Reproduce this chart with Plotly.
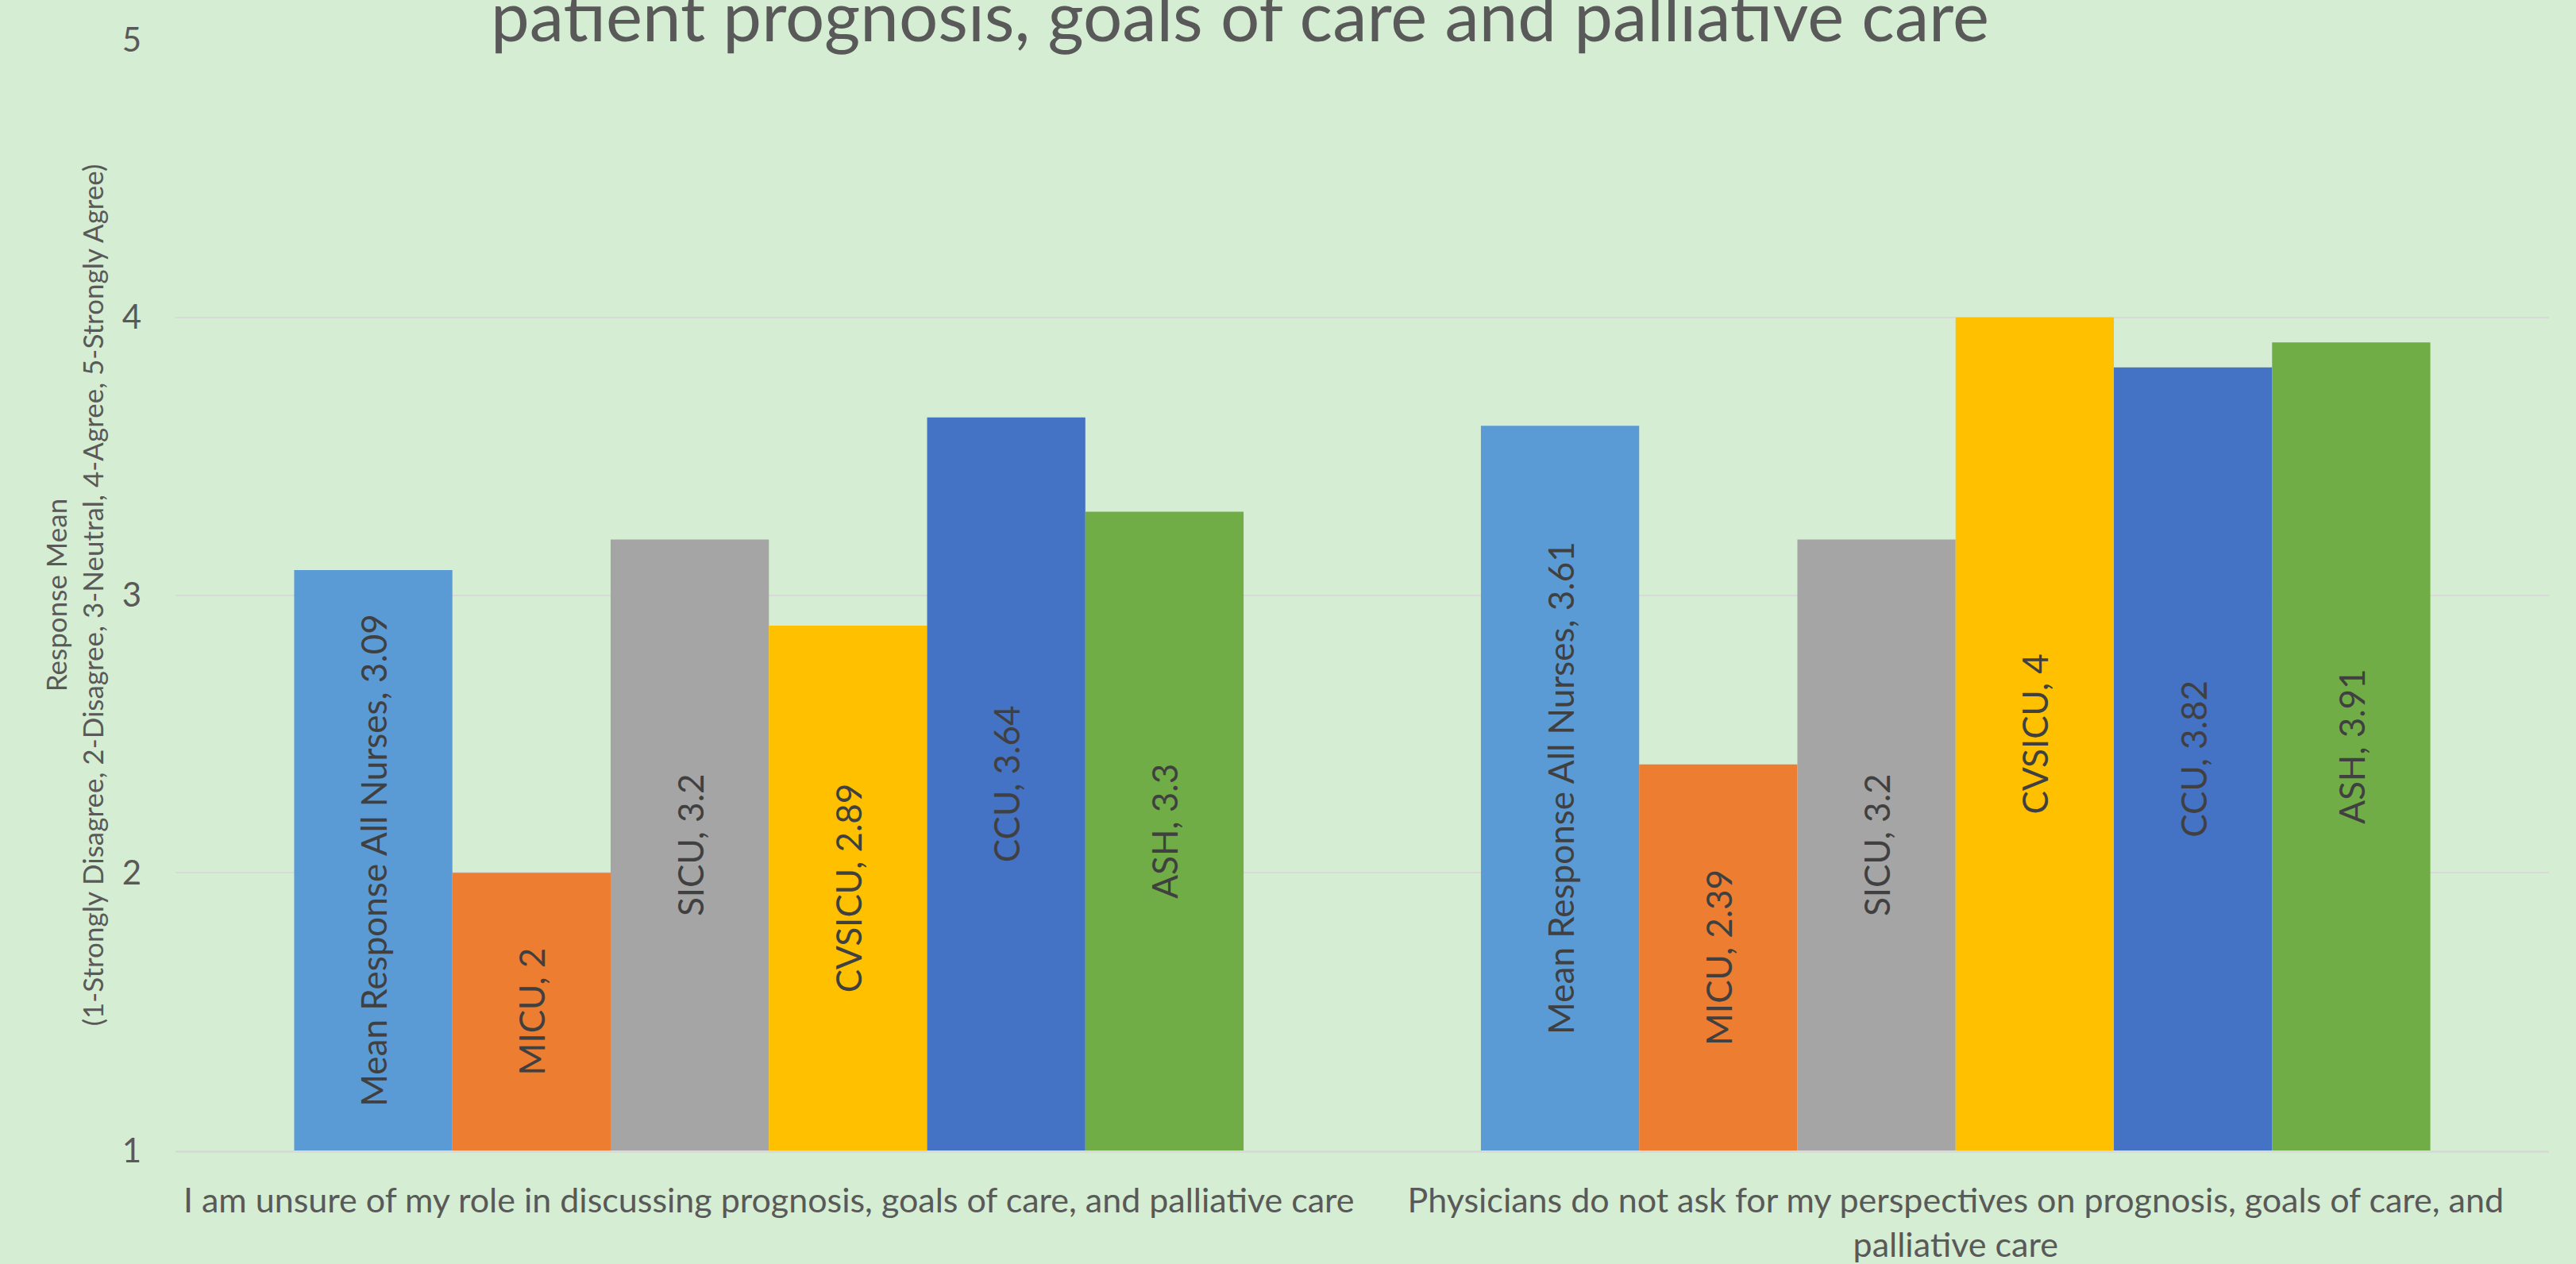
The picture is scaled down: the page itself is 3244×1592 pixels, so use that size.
import plotly.graph_objects as go

categories = [
    "I am unsure of my role in discussing prognosis, goals of care, and palliative care",
    "Physicians do not ask for my perspectives on prognosis, goals of care, and<br>palliative care",
]
series_names = ["Mean Response All Nurses", "MICU", "SICU", "CVSICU", "CCU", "ASH"]
values = {
    "Mean Response All Nurses": [3.09, 3.61],
    "MICU": [2, 2.39],
    "SICU": [3.2, 3.2],
    "CVSICU": [2.89, 4],
    "CCU": [3.64, 3.82],
    "ASH": [3.3, 3.91],
}
colors = ["#5B9BD5", "#ED7D31", "#A5A5A5", "#FFC000", "#4472C4", "#70AD47"]
title_text = "patient prognosis, goals of care and palliative care"
y_title = "Response Mean<br>(1-Strongly Disagree, 2-Disagree, 3-Neutral, 4-Agree, 5-Strongly Agree)"
y_ticks = [1, 2, 3, 4, 5]
axis_min = 1

FONT = "Lato"
BG = "#D5EDD2"

fig = go.Figure()
for name, col in zip(series_names, colors):
    vals = values[name]
    fig.add_trace(go.Bar(
        name=name,
        x=categories,
        y=[v - axis_min for v in vals],
        base=axis_min,
        marker=dict(color=col, line=dict(width=0)),
        text=[f"{name}, {v:g}" for v in vals],
        textposition="inside",
        insidetextanchor="middle",
        textangle=-90,
        constraintext="none",
        textfont=dict(family=FONT, size=44, color="#404040"),
        showlegend=False,
    ))

fig.update_layout(
    width=3244, height=1592,
    barmode="group", bargap=0.2, bargroupgap=0,
    paper_bgcolor=BG, plot_bgcolor=BG,
    margin=dict(l=221, r=34, t=50, b=143, autoexpand=False),
    font=dict(family=FONT, color="#595959"),
    xaxis=dict(
        showgrid=False, showline=True, linecolor="#D9D9D9", linewidth=3,
        ticks="", tickfont=dict(family=FONT, size=43, color="#595959"),
        ticklabelstandoff=23, automargin=False,
    ),
    yaxis=dict(
        range=[1, 5], tickvals=y_ticks, showgrid=True, gridcolor="#D9D9D9",
        gridwidth=2, zeroline=False, showline=False, ticks="",
        tickfont=dict(family=FONT, size=42, color="#595959"),
        ticklabelstandoff=42, automargin=False,
        title=dict(text=y_title, font=dict(family=FONT, size=35, color="#595959"), standoff=12),
    ),
    annotations=[dict(
        text=title_text, xref="paper", yref="paper", x=0.4486, y=1,
        xanchor="center", yanchor="bottom", yshift=-23, showarrow=False,
        font=dict(family=FONT, size=87, color="#595959"),
    )],
)

fig.write_html("out.html", config={"displayModeBar": False},
               post_script="document.body.style.margin='0';")
